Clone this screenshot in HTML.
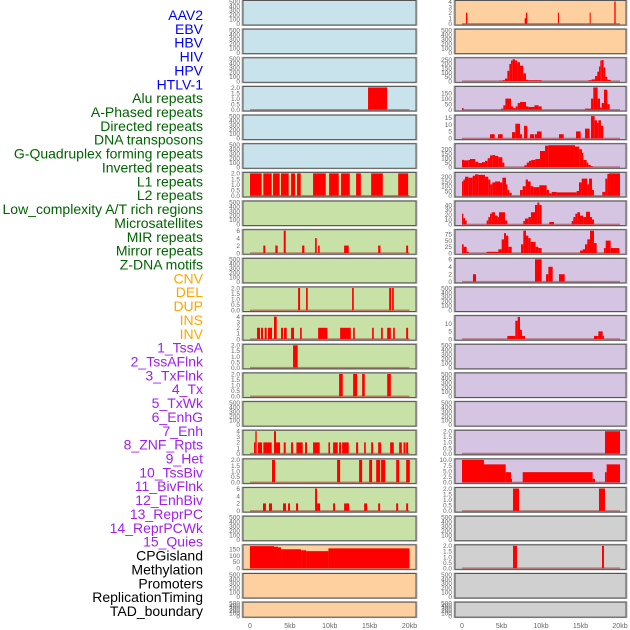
<!DOCTYPE html>
<html><head><meta charset="utf-8"><style>
body{margin:0;background:#fff;}
svg{display:block;font-family:"Liberation Sans",sans-serif;}
</style></head><body>
<svg id="chart" width="630" height="630" viewBox="0 0 630 630"></svg>
<script>
const labels=["AAV2","EBV","HBV","HIV","HPV","HTLV-1","Alu repeats","A-Phased repeats","Directed repeats","DNA transposons","G-Quadruplex forming repeats","Inverted repeats","L1 repeats","L2 repeats","Low_complexity A/T rich regions","Microsatellites","MIR repeats","Mirror repeats","Z-DNA motifs","CNV","DEL","DUP","INS","INV","1_TssA","2_TssAFlnk","3_TxFlnk","4_Tx","5_TxWk","6_EnhG","7_Enh","8_ZNF_Rpts","9_Het","10_TssBiv","11_BivFlnk","12_EnhBiv","13_ReprPC","14_ReprPCWk","15_Quies","CPGisland","Methylation","Promoters","ReplicationTiming","TAD_boundary"];
const labelGroups=[6,13,5,15,5];
const groupColors=["#0000ff","#006400","#ffa500","#a020f0","#000000"];
const xTicks=[0,5,10,15,20];
const xTickLabels=["0","5kb","10kb","15kb","20kb"];
const leftBg=["blue","blue","blue","blue","blue","blue","green","green","green","green","green","green","green","green","green","green","green","green","green","orange","orange","orange"];
const rightBg=["orange","orange","purple","purple","purple","purple","purple","purple","purple","purple","purple","purple","purple","purple","purple","purple","purple","gray","gray","gray","gray","gray"];
const leftYmax=[0,0,0,2,0,0,2,0,6,0,2,4,2,2,0,4,2,6,0,177,0,0];
const rightYmax=[4,0,260,200,16,250,235,46,90,6,0,14.7,0,0,0,2,10,2,0,2,0,0];
const leftTicks=[null,null,null,[0,0.5,1,1.5,2],null,null,[0,0.5,1,1.5,2],null,[0,2,4,6],null,[0,0.5,1,1.5,2],[0,1,2,3,4],[0,0.5,1,1.5,2],[0,0.5,1,1.5,2],null,[0,1,2,3,4],[0,0.5,1,1.5,2],[0,2,4,6],null,[0,50,100,150],null,null];
const rightTicks=[[0,1,2,3,4],null,[0,50,100,150,200,250],[0,50,100,150],[0,5,10,15],[0,50,100,150,200],[0,50,100,150,200],[0,10,20,30,40],[0,25,50,75],[0,2,4,6],null,[0,5,10],null,null,null,[0,0.5,1,1.5,2],[0,2.5,5,7.5,10],[0,0.5,1,1.5,2],null,[0,0.5,1,1.5,2],null,null];
// segments: [startKb, endKb, value]
const segL3=[[14.8,17.2,2]];
const segL6=[[0,1.46,2],[1.67,2.72,2],[2.89,3.72,2],[3.89,4.85,2],[5.15,5.65,2],[5.9,6.36,2],[7.91,9.5,2],[9.92,11.13,2],[11.42,12.51,2],[13.3,13.9,2],[15.19,16.65,2],[18.58,19.83,2]];
const segL8=[[1.67,1.92,2],[3.18,3.47,2],[4.23,4.48,6],[6.53,6.82,2],[8.16,8.37,4],[8.54,8.74,2],[11.8,12.38,2],[16.07,16.36,2],[19.58,19.83,2]];
const segL10=[[6.03,6.28,2],[7.03,7.24,2],[12.8,13.01,2],[17.45,17.7,2],[17.82,18.03,2]];
const segL11=[[0.88,1.26,2],[1.38,1.63,2],[1.84,2.09,2],[2.26,2.76,2],[3.01,3.35,4],[3.89,4.14,2],[4.27,4.6,2],[5.15,5.52,2],[6.28,6.49,2],[8.54,9.71,2],[11.3,12.64,2],[12.93,13.14,2],[15.31,15.52,2],[16.44,16.65,2],[17.2,17.66,2],[17.95,18.16,2],[19.58,19.83,2]];
const segL12=[[5.4,5.98,2]];
const segL13=[[11.17,11.63,2],[12.93,13.43,2],[14.06,14.39,2],[17.2,17.66,2]];
const segL15=[[0.5,0.67,2],[0.67,0.84,4],[1.0,1.51,2],[1.67,2.72,2],[3.01,3.26,4],[3.26,3.77,2],[4.23,4.48,2],[5.15,5.4,2],[5.82,6.61,2],[6.9,7.15,2],[7.91,8.74,2],[9.83,10.04,2],[10.42,11.0,2],[11.17,11.42,2],[11.55,12.38,2],[13.3,13.56,2],[14.31,14.52,2],[15.19,15.44,2],[16.07,16.44,2],[17.57,18.03,2],[18.7,19.04,2],[19.25,19.5,2],[19.58,19.83,2]];
const segL16=[[2.76,3.14,2],[10.92,11.3,2],[13.68,14.06,2],[14.94,15.31,2],[15.82,16.32,2],[16.44,16.95,2],[18.33,18.7,2],[19.58,20.04,2]];
const segL17=[[1.63,2.0,2],[2.38,2.76,2],[4.14,4.52,2],[4.77,5.02,2],[5.77,6.03,2],[8.16,8.41,6],[8.41,8.79,2],[10.42,10.67,2],[11.8,12.43,2],[14.31,14.69,2],[16.07,16.32,2],[18.33,18.58,2],[19.58,19.83,2]];
const segL19=[[0,3.01,175],[3.01,3.51,170],[3.51,3.89,165],[3.89,6.4,150],[6.4,7.03,142],[7.03,9.83,135],[9.83,20,157]];
const segR0=[[0.51,0.68,2],[7.93,8.1,1],[8.1,8.27,2],[12.15,12.28,2],[16.16,16.29,2],[19.28,19.45,4]];
const segR2=[[4.68,5.15,5],[5.15,5.44,10],[5.44,5.74,30],[5.74,5.99,120],[5.99,6.2,200],[6.2,6.41,240],[6.41,6.71,255],[6.71,7.0,240],[7.0,7.34,220],[7.34,7.76,180],[7.76,8.1,90],[8.1,8.4,15],[8.4,10.08,10],[15.99,16.41,10],[16.41,16.84,20],[16.84,17.13,60],[17.13,17.34,110],[17.34,17.51,170],[17.51,17.68,240],[17.68,17.93,245],[17.93,18.14,160],[18.14,18.4,50],[18.4,18.82,15]];
const segR3=[[0,0.21,15],[4.94,5.23,10],[5.23,5.49,40],[5.49,6.2,100],[6.2,6.5,30],[6.5,6.79,15],[6.79,7.05,30],[7.05,7.34,60],[7.34,8.1,70],[8.1,8.4,30],[8.4,9.16,25],[9.16,9.7,40],[9.7,10.08,30],[15.57,16.33,10],[16.33,16.62,100],[16.62,17.17,200],[17.17,17.47,100],[17.47,17.68,20],[17.68,17.97,60],[17.97,18.4,180],[18.4,18.69,50]];
const segR4=[[3.54,4.14,3],[4.56,5.15,3],[6.33,6.75,4.5],[6.75,7.34,10.5],[7.34,7.59,3],[7.85,8.27,9],[8.61,9.11,3],[9.2,9.49,3],[9.49,10.08,5],[12.28,12.87,3],[14.43,15.02,5],[15.57,16.16,7],[16.33,16.79,16],[16.79,17.09,13],[17.09,17.26,11],[17.26,17.59,13],[17.59,17.89,9]];
const segR5=[[0,0.25,80],[0.25,0.8,75],[0.8,1.01,80],[1.01,1.69,90],[1.69,2.07,60],[2.07,2.53,45],[2.53,2.91,55],[2.91,3.25,70],[3.25,3.54,100],[3.54,3.88,130],[3.88,4.18,135],[4.18,4.6,125],[4.6,5.11,110],[5.11,5.36,50],[7.89,8.19,20],[8.19,8.48,50],[8.48,8.78,70],[8.78,9.28,80],[9.28,9.87,90],[9.87,10.51,180],[10.51,10.93,240],[10.93,14.3,245],[14.3,14.85,230],[14.85,15.19,200],[15.19,15.36,160],[15.36,15.78,80],[15.78,15.99,50],[15.99,16.29,25],[16.29,16.54,10]];
const segR6=[[0,0.17,150],[0.17,0.38,170],[0.38,0.8,200],[0.8,1.35,190],[1.35,1.65,210],[1.65,2.07,225],[2.07,2.91,220],[2.91,3.33,200],[3.33,3.59,170],[3.59,3.84,120],[3.84,4.18,140],[4.18,4.81,150],[4.81,5.11,140],[5.11,5.57,190],[5.57,5.74,120],[5.74,5.99,60],[5.99,6.29,30],[7.34,7.68,60],[7.68,8.06,100],[8.06,8.35,170],[8.35,8.69,150],[8.69,9.03,100],[9.03,9.79,90],[9.79,10.72,110],[10.72,11.01,60],[11.01,11.35,25],[11.35,11.98,40],[11.98,14.51,35],[14.51,14.81,50],[14.81,15.15,140],[15.15,15.86,180],[15.86,16.08,120],[16.08,16.46,180],[16.46,16.71,60],[17.76,18.14,40],[18.14,18.4,180],[18.4,18.61,230],[18.61,20.0,235]];
const segR7=[[0,0.17,22],[0.17,0.38,13],[0.38,0.59,8],[3.12,3.33,8],[3.33,3.54,15],[3.54,3.76,22],[3.76,4.18,25],[4.18,4.51,18],[4.51,4.68,15],[4.68,5.44,25],[5.44,5.74,8],[7.76,7.97,7],[7.97,8.4,12],[8.4,8.73,15],[8.73,9.24,25],[9.24,9.54,40],[9.54,9.79,45],[9.79,10.08,40],[11.05,11.65,5],[13.88,14.09,7],[14.09,14.35,15],[14.35,14.6,22],[14.6,14.94,25],[14.94,15.36,18],[15.36,15.7,15],[15.7,16.2,26],[16.2,16.46,15],[16.46,16.71,10]];
const segR8=[[0,0.21,35],[0.21,0.59,25],[0.59,0.84,5],[3.12,4.6,5],[4.6,5.02,15],[5.02,5.32,55],[5.32,5.57,80],[5.57,5.86,70],[5.86,6.29,25],[7.47,7.76,35],[7.76,8.1,90],[8.1,8.4,70],[8.4,8.69,60],[8.69,9.32,45],[9.32,9.66,25],[9.66,10.08,20],[14.94,15.27,10],[15.27,15.57,15],[15.57,15.86,35],[15.86,16.2,55],[16.2,16.71,90],[16.71,17.05,40],[17.97,18.19,20],[18.19,18.82,50],[18.82,19.92,20]];
const segR9=[[1.39,1.77,2],[9.24,10.08,6],[10.63,10.93,2],[10.93,11.48,4],[12.28,13.0,2]];
const segR11=[[5.74,6.75,2],[6.75,7.05,12],[7.05,7.34,14.5],[7.34,7.59,6],[7.59,7.97,2],[16.71,17.26,2],[17.26,17.81,5],[17.81,17.97,2]];
const segR15=[[18.1,20.0,2]];
const segR16=[[0,2.78,10],[2.78,5.53,8],[5.53,6.2,4.5],[6.2,6.33,1.5],[7.68,16.54,4.5],[16.54,16.84,1.5],[18.1,18.31,4.5],[18.31,20.0,8]];
const segR17=[[6.46,7.22,2],[17.34,18.1,2]];
const segR19=[[6.46,6.96,2],[17.72,17.97,2]];
const leftSeg={3:segL3,6:segL6,8:segL8,10:segL10,11:segL11,12:segL12,13:segL13,15:segL15,16:segL16,17:segL17,19:segL19};
const rightSeg={0:segR0,2:segR2,3:segR3,4:segR4,5:segR5,6:segR6,7:segR7,8:segR8,9:segR9,11:segR11,15:segR15,16:segR16,17:segR17,19:segR19};

const NS="http://www.w3.org/2000/svg";
const svg=document.getElementById('chart');
const bgColors={blue:"#c9e3ec",green:"#c8e1a6",orange:"#ffd09f",purple:"#d6c5e2",gray:"#d0d0d0"};
function mk(tag,attrs,parent){const e=document.createElementNS(NS,tag);for(const k in attrs)e.setAttribute(k,attrs[k]);(parent||svg).appendChild(e);return e;}

// labels
let gi=0,cnt=0;
labels.forEach((t,i)=>{
  while(cnt>=labelGroups[gi]){cnt=0;gi++;}
  cnt++;
  const e=mk('text',{x:203,y:15+i*13.86+5,'text-anchor':'end','font-size':14,fill:groupColors[gi]});
  e.textContent=t;
  
  
});

const cols=[{x0:243,x1:416,d0:250,d1:409.5,bg:leftBg,ymax:leftYmax,ticks:leftTicks,seg:leftSeg,name:'left'},
            {x0:455,x1:626,d0:462,d1:620,bg:rightBg,ymax:rightYmax,ticks:rightTicks,seg:rightSeg,name:'right'}];
cols.forEach(c=>{
  const xs=kb=>c.d0+kb/20*(c.d1-c.d0);
  for(let r=0;r<22;r++){
    const top=r*28.65+0.5, h=(r===21?15:24.5);
    const g=mk('g',{});
    
    
    mk('rect',{x:c.x0-1,y:top-0.5,width:c.x1-c.x0+2,height:h+1,fill:'none',stroke:'#bbb','stroke-width':1},g);
    mk('rect',{x:c.x0,y:top,width:c.x1-c.x0,height:h,fill:bgColors[c.bg[r]],stroke:'#555','stroke-width':1},g);
    const y0=top+h-1.2, ytop=top+1;
    const ymax=c.ymax[r];
    const ticks=c.ticks[r];
    const ys=v=>y0-(v/(ymax||500))*(y0-ytop);
    const tk=ticks||[0,100,200,300,400,500];
    const tmax=ticks?ymax:500;
    tk.forEach(v=>{
      const yy=y0-(v/tmax)*(y0-ytop);
      const t=mk('text',{x:c.x0-3,y:yy+2.3,'text-anchor':'end','font-size':6.5,fill:'#666'},g);
      t.textContent=(ticks&&tk.some(q=>q%1!==0))?(v%1===0&&tk.indexOf(2.5)<0?v.toFixed(1):(tk.indexOf(2.5)>=0?v.toFixed(1):v)):v;
      
      
    });
    const seg=c.seg[r];
    if(seg){
      const bl=mk('line',{x1:xs(0),x2:xs(20),y1:y0,y2:y0,stroke:'rgba(160,40,40,0.5)','stroke-width':1.5},g);
      
      
      seg.forEach(s=>{
        const x1=xs(s[0]),x2=xs(s[1]);
        const b=mk('rect',{x:x1,y:ys(s[2]),width:Math.max(0.8,x2-x1),height:y0-ys(s[2]),fill:'#ff0000'},g);
        
        
      });
    }
  }
  xTicks.forEach((v,i)=>{
    const t=mk('text',{x:xs(v),y:628,'text-anchor':'middle','font-size':7,fill:'#666'});
    t.textContent=xTickLabels[i];
    
    
  });
});
</script>
</body></html>
